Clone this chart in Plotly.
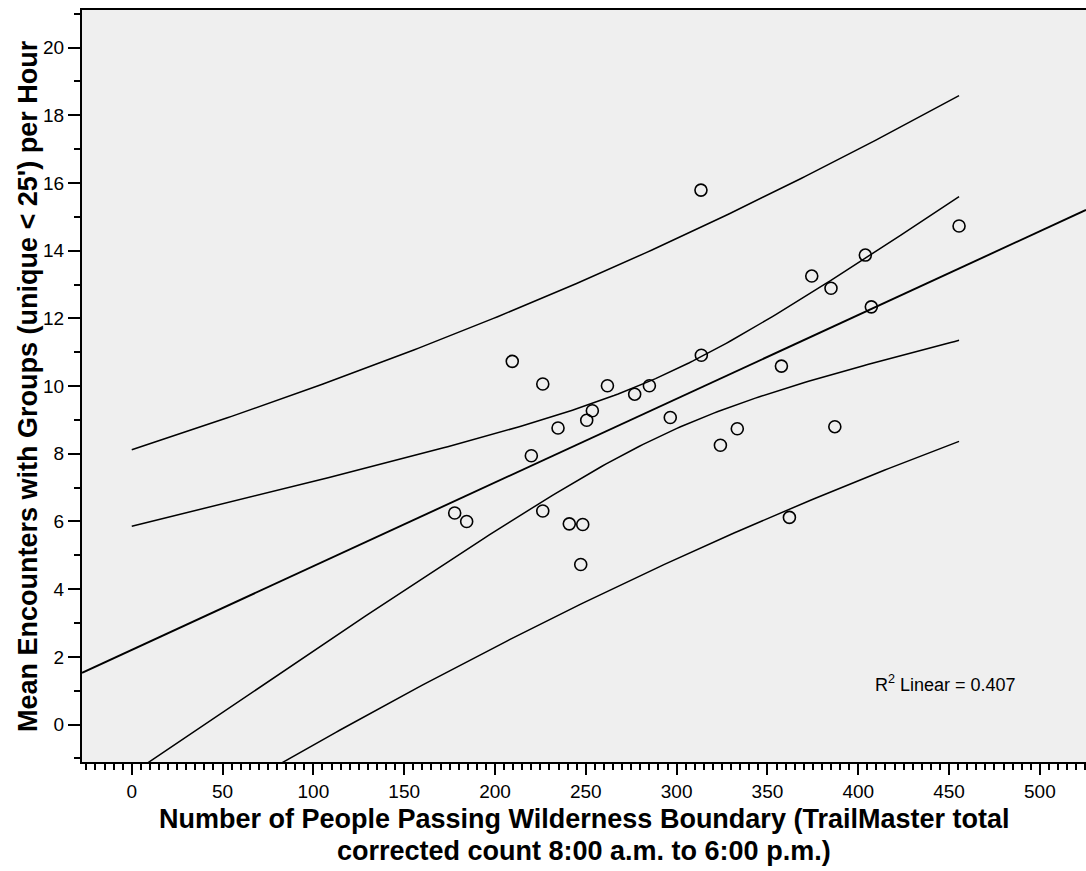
import numpy as np
import plotly.graph_objects as go

# Observations: people passing the boundary vs. mean encounters per hour
people_passing = [177.8, 184.4, 209.5, 220.0, 226.3, 226.3, 234.7, 240.9, 248.3, 247.2,
                  250.5, 253.6, 261.9, 276.9, 285.0, 296.5, 313.4, 313.6, 324.1, 333.4,
                  357.7, 362.1, 374.4, 385.0, 387.1, 403.9, 407.2, 455.5]
mean_encounters = [6.25, 6.00, 10.73, 7.94, 10.06, 6.31, 8.76, 5.93, 5.91, 4.73,
                   8.99, 9.27, 10.01, 9.76, 10.01, 9.07, 15.79, 10.91, 8.25, 8.74,
                   10.59, 6.12, 13.25, 12.89, 8.80, 13.87, 12.34, 14.73]

x_ticks = [0, 50, 100, 150, 200, 250, 300, 350, 400, 450, 500]
y_ticks = [0, 2, 4, 6, 8, 10, 12, 14, 16, 18, 20]
x_range = [-27.4, 525.4]
y_range = [-1.106, 21.11]
r2_linear = 0.407
t_crit = 2.0555  # two-sided 95%, df = n - 2 = 26

x = np.array(people_passing)
y = np.array(mean_encounters)
n = len(x)
slope, intercept = np.polyfit(x, y, 1)
resid = y - (intercept + slope * x)
s = np.sqrt(np.sum(resid ** 2) / (n - 2))
xm = x.mean()
sxx = np.sum((x - xm) ** 2)

# Fit line across the whole axis; bands from 0 to the largest observation
xl = np.array(x_range)
yl = intercept + slope * xl
xb = np.linspace(0, x.max(), 200)
yb = intercept + slope * xb
se_mean = s * np.sqrt(1 / n + (xb - xm) ** 2 / sxx)
se_pred = s * np.sqrt(1 + 1 / n + (xb - xm) ** 2 / sxx)

fig = go.Figure()
line_style = dict(color="black", width=1.5)
for yy in [yb + t_crit * se_pred, yb - t_crit * se_pred,
           yb + t_crit * se_mean, yb - t_crit * se_mean]:
    fig.add_trace(go.Scatter(x=xb, y=yy, mode="lines", line=line_style,
                             hoverinfo="skip", showlegend=False))
fig.add_trace(go.Scatter(x=xl, y=yl, mode="lines", line=dict(color="black", width=1.9),
                         hoverinfo="skip", showlegend=False))
fig.add_trace(go.Scatter(x=people_passing, y=mean_encounters, mode="markers",
                         marker=dict(symbol="circle-open", size=12,
                                     line=dict(color="black", width=1.6), color="black"),
                         showlegend=False))

font_family = "Liberation Sans, Arial, sans-serif"
tick_font = dict(family=font_family, size=19, color="black")
fig.update_xaxes(range=x_range, tickvals=x_ticks, ticktext=[str(v) for v in x_ticks],
                 showgrid=False, zeroline=False, showline=True, linecolor="black",
                 linewidth=2, mirror=True, ticks="outside", ticklen=11, tickwidth=2,
                 tickcolor="black", tickfont=tick_font,
                 minor=dict(dtick=5, tick0=0, ticks="outside", ticklen=6,
                            tickwidth=1.5, tickcolor="black", showgrid=False))
fig.update_yaxes(range=y_range, tickvals=y_ticks, ticktext=[str(v) for v in y_ticks],
                 showgrid=False, zeroline=False, showline=True, linecolor="black",
                 linewidth=2, mirror=False, ticks="outside", ticklen=12, tickwidth=2,
                 tickcolor="black", tickfont=tick_font,
                 minor=dict(dtick=1, tick0=0, ticks="outside", ticklen=6,
                            tickwidth=1.5, tickcolor="black", showgrid=False))

title_font = dict(family=font_family, size=27, color="black")
fig.add_annotation(x=0.5, xref="paper", y=-0.0758, yref="paper", yanchor="middle",
                   text="<b>Number of People Passing Wilderness Boundary (TrailMaster total</b>",
                   showarrow=False, font=title_font)
fig.add_annotation(x=0.5, xref="paper", y=-0.1184, yref="paper", yanchor="middle",
                   text="<b>corrected count 8:00 a.m. to 6:00 p.m.)</b>",
                   showarrow=False, font=title_font)
fig.add_annotation(x=-0.0538, xref="paper", y=0.5, yref="paper", textangle=-90,
                   xanchor="center", yanchor="middle",
                   text="<b>Mean Encounters with Groups (unique &lt; 25') per Hour</b>",
                   showarrow=False, font=title_font)
fig.add_annotation(x=488, y=1.22, xref="x", yref="y", xanchor="right", yanchor="middle",
                   text=f"R<sup>2</sup> Linear = {r2_linear:.3f}", showarrow=False,
                   font=dict(family=font_family, size=18, color="black"))

fig.update_layout(width=1086, height=871, paper_bgcolor="white", plot_bgcolor="#efefef",
                  margin=dict(l=82, r=0, t=10, b=109), showlegend=False)
fig.write_html("out.html")
